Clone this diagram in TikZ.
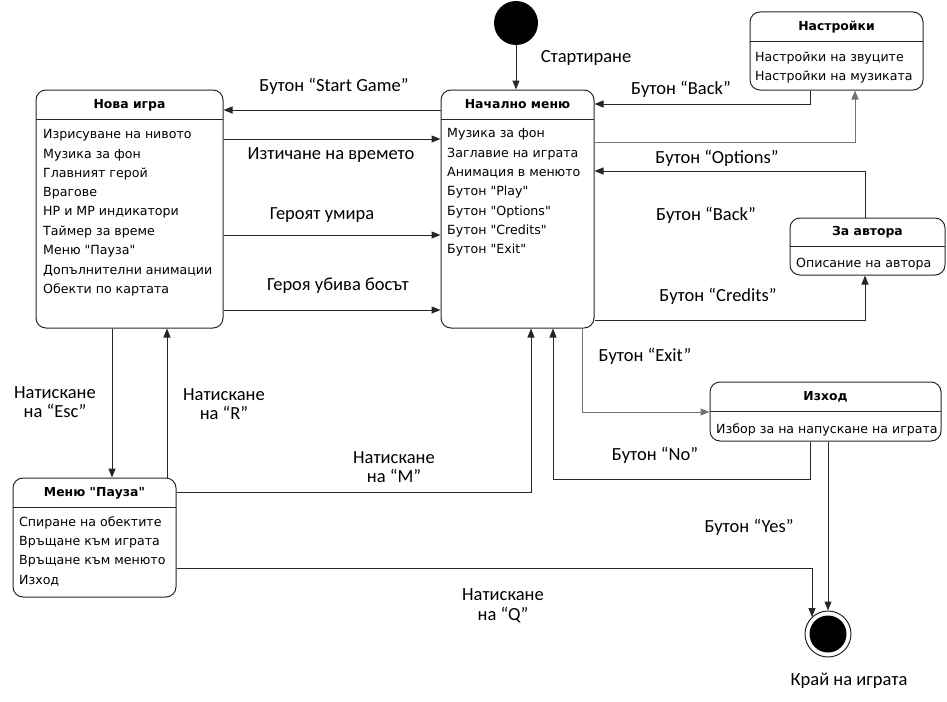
\documentclass[tikz,border=0pt]{standalone}
\usepackage{fontspec}
\setmainfont{Carlito}
\newfontfamily\boxfont{DejaVu Sans}
\usetikzlibrary{arrows.meta}
\begin{document}
\begin{tikzpicture}[x=1pt,y=-1pt,
  statebox/.style={draw=black!85, line width=1pt, rounded corners=10pt, inner sep=0pt},
  ttl/.style={font=\boxfont\bfseries\fontsize{12.4}{14}\selectfont, inner sep=0pt},
  itm/.style={font=\boxfont\fontsize{12.6}{14}\selectfont, inner sep=0pt, anchor=west, yshift=-1.5pt},
  lbl/.style={font=\fontsize{18.5}{19.5}\selectfont, align=center, inner sep=0pt},
  ln/.style={line width=1pt, draw=black!85},
  arr/.style={line width=1pt, draw=black!85, -{Triangle[length=9pt,width=7pt]}},
  garr/.style={line width=1pt, draw=black!55, -{Triangle[length=9pt,width=7pt]}}]
\path[use as bounding box] (0,0) rectangle (947,701);

% ---------- boxes ----------
% Нова игра: 36..223 x 90..328
\node[statebox, minimum width=187, minimum height=238] (nova) at (129.5,209) {};
\draw[ln] (36,119) -- (223,119);
\node[ttl] (novat) at (129.5,105) {Нова игра};
\foreach \t [count=\i] in {Изрисуване на нивото, Музика за фон, Главният герой, Врагове, HP и MP индикатори, Таймер за време, Меню "Пауза", Допълнителни анимации, Обекти по картата}
  \node[itm] (nova\i) at (43,{134+(\i-1)*19.3}) {\t};

% Начално меню: 441..594 x 90..328
\node[statebox, minimum width=153, minimum height=238] (nach) at (517.5,209) {};
\draw[ln] (441,119) -- (594,119);
\node[ttl] (nacht) at (517.5,104) {Начално меню};
\foreach \t [count=\i] in {Музика за фон, Заглавие на играта, Анимация в менюто, Бутон "Play", Бутон "Options", Бутон "Credits", Бутон "Exit"}
  \node[itm] (nach\i) at (447,{133+(\i-1)*19.3}) {\t};

% Настройки: 750..923 x 12..90
\node[statebox, minimum width=173, minimum height=78] (nastr) at (836.5,51) {};
\draw[ln] (750,42) -- (923,42);
\node[ttl] (nastrt) at (836.5,27) {Настройки};
\node[itm] (nastr1) at (755,57) {Настройки на звуците};
\node[itm] (nastr2) at (755,75.5) {Настройки на музиката};

% За автора: 790..945 x 218..275
\node[statebox, minimum width=155, minimum height=57] (avtor) at (867.5,246.5) {};
\draw[ln] (790,246) -- (945,246);
\node[ttl] (avtort) at (867.5,232) {За автора};
\node[itm] (avtor1) at (796,263) {Описание на автора};

% Изход: 710..941 x 382..441
\node[statebox, minimum width=231, minimum height=59] (izhod) at (825.5,411.5) {};
\draw[ln] (710,411) -- (941,411);
\node[ttl] (izhodt) at (825.5,397) {Изход};
\node[itm] (izhod1) at (716,428) {Избор за на напускане на играта};

% Меню "Пауза": 13..176 x 478..597
\node[statebox, minimum width=163, minimum height=119] (pauza) at (94.5,537.5) {};
\draw[ln] (13,507) -- (176,507);
\node[ttl] (pauzat) at (94.5,493) {Меню "Пауза"};
\foreach \t [count=\i] in {Спиране на обектите, Връщане към играта, Връщане към менюто, Изход}
  \node[itm] (pauza\i) at (19,{521+(\i-1)*19.5}) {\t};

% ---------- start / end ----------
\node[circle, fill=black, minimum size=44, inner sep=0pt] (start) at (516,23) {};
\node[circle, draw=black!85, line width=1pt, minimum size=46, inner sep=0pt] (end) at (828,634) {};
\node[circle, fill=black, minimum size=37, inner sep=0pt] (endin) at (828,634) {};
\coordinate (qtip) at (812,617);

% ---------- connectors ----------
\draw[arr] (start.south) -- (start.south |- nach.north);
\draw[arr] (nach.west |- 0,110) -- (nova.east |- 0,110);
\draw[arr] (nova.east |- 0,139) -- (nach.west |- 0,139);
\draw[arr] (nova.east |- 0,235) -- (nach.west |- 0,235);
\draw[arr] (nova.east |- 0,310) -- (nach.west |- 0,310);
\draw[arr] (nova.south -| 112,0) -- (pauza.north -| 112,0);
\draw[arr] (pauza.north -| 167,0) -- (nova.south -| 167,0);
\draw[arr] (pauza.east |- 0,492) -| (nach.south -| 531,0);
\draw[arr] (pauza.east |- 0,568) -| (qtip);
% Настройки
\draw[arr] (nastr.south -| 810,0) |- (nach.east |- 0,104);
\draw[garr] (nach.east |- 0,142) -| (nastr.south -| 855,0);
% За автора
\draw[arr] (avtor.north -| 865,0) |- (nach.east |- 0,171);
\draw[arr] (nach.east |- 0,320) -| (avtor.south -| 865,0);
% Изход
\draw[garr] (nach.south -| 582,0) |- (izhod.west |- 0,412);
\draw[arr] (izhod.south -| 810,0) -- (810,479) -| (nach.south -| 553,0);
\draw[arr] (izhod.south -| 828,0) -- (end.north);

% ---------- labels ----------
\node[lbl] (l1) at (586,58) {Стартиране};
\node[lbl] (l2) at (334,86) {Бутон “Start Game”};
\node[lbl] (l3) at (331,155) {Изтичане на времето};
\node[lbl] (l4) at (322,215) {Героят умира};
\node[lbl] (l5) at (338,286) {Героя убива босът};
\node[lbl] (l6) at (55,402) {Натискане\\на “Esc”};
\node[lbl] (l7) at (224,404) {Натискане\\на “R”};
\node[lbl] (l8) at (394,467) {Натискане\\на “M”};
\node[lbl] (l9) at (503,606) {Натискане\\на “Q”};
\node[lbl] (l10) at (681,89) {Бутон “Back”};
\node[lbl] (l11) at (717,158) {Бутон “Options”};
\node[lbl] (l12) at (706,215) {Бутон “Back”};
\node[lbl] (l13) at (718,296) {Бутон “Credits”};
\node[lbl] (l14) at (645,356) {Бутон “Exit”};
\node[lbl] (l15) at (655,455) {Бутон “No”};
\node[lbl] (l16) at (749,527) {Бутон “Yes”};
\node[lbl] (l17) at (849,681) {Край на играта};
\end{tikzpicture}
\end{document}
